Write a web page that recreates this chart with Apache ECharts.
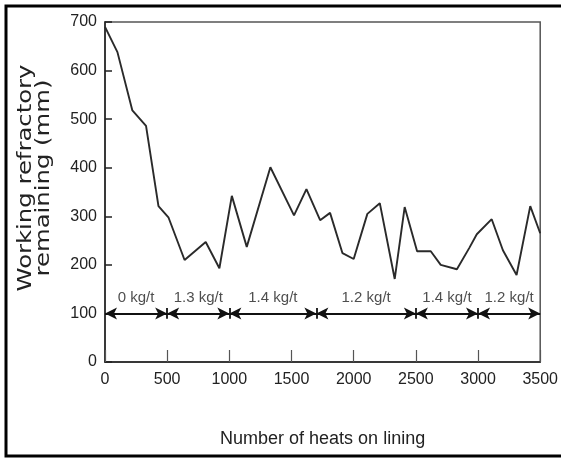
<!DOCTYPE html>
<html>
<head>
<meta charset="utf-8">
<script src="https://cdn.jsdelivr.net/npm/echarts@6/dist/echarts.min.js"></script>
<style>
  html, body { margin: 0; padding: 0; background: #fff; }
  #chart { width: 561px; height: 458px; }
</style>
</head>
<body>
<div id="chart"></div>
<script>
// Heats on lining vs. working refractory remaining
const heats = [0, 100, 220, 330, 430, 510, 640, 810, 920, 1020, 1140, 1330, 1520, 1620, 1730, 1810,
               1910, 2000, 2110, 2210, 2330, 2410, 2510, 2620, 2700, 2830, 2930, 2990, 3110, 3200,
               3310, 3420, 3500];
const remaining = [690, 638, 518, 486, 321, 298, 210, 247, 193, 342, 237, 401, 302, 356, 292, 307,
                   224, 212, 305, 327, 171, 319, 228, 228, 200, 191, 235, 263, 294, 230,
                   179, 321, 265];

// Slag-addition periods (start, end, label) drawn as arrows at 100 mm
const periodStart = [0, 500, 1000, 1700, 2500, 3000];
const periodEnd = [500, 1000, 1700, 2500, 3000, 3500];
const periodLabel = ['0 kg/t', '1.3 kg/t', '1.4 kg/t', '1.2 kg/t', '1.4 kg/t', '1.2 kg/t'];
const arrowLevel = 100;
const labelLevel = 132;

const xTicks = [0, 500, 1000, 1500, 2000, 2500, 3000, 3500];
const yTicks = [0, 100, 200, 300, 400, 500, 600, 700];

const sans = '"Liberation Sans", Arial, sans-serif';
const ink = '#222';

const arrowLines = periodStart.map((s, i) => [
  { coord: [s, arrowLevel] },
  { coord: [periodEnd[i], arrowLevel] }
]);
const separators = periodStart.slice(1).map(s => [
  { coord: [s, arrowLevel - 11], symbol: 'none' },
  { coord: [s, arrowLevel + 11], symbol: 'none' }
]);

const chart = echarts.init(document.getElementById('chart'), null, { renderer: 'canvas' });
chart.setOption({
  backgroundColor: '#fff',
  animation: false,
  grid: { left: 105, right: 16, top: 22, bottom: 96, show: true, borderColor: '#555', borderWidth: 1.5 },
  xAxis: {
    type: 'value', min: 0, max: 3500, interval: 500,
    name: 'Number of heats on lining', nameLocation: 'middle', nameGap: 68,
    nameTextStyle: { fontFamily: sans, fontSize: 18, color: ink },
    axisLine: { lineStyle: { color: ink, width: 1.5 } },
    axisTick: { inside: true, length: 12, lineStyle: { color: '#555', width: 1.2 } },
    axisLabel: { fontFamily: sans, fontSize: 16, color: ink, margin: 10,
                 formatter: v => xTicks.includes(v) ? String(v) : '' },
    splitLine: { show: false }
  },
  yAxis: {
    type: 'value', min: 0, max: 700, interval: 100,
    axisLine: { lineStyle: { color: ink, width: 1.5 } },
    axisTick: { inside: true, length: 7, lineStyle: { color: ink, width: 1.5 } },
    axisLabel: { fontFamily: sans, fontSize: 16, color: ink, margin: 8,
                 formatter: v => yTicks.includes(v) ? String(v) : '' },
    splitLine: { show: false }
  },
  graphic: [
    {
      type: 'rect', silent: true,
      shape: { x: 6, y: 6, width: 620, height: 450 },
      style: { fill: 'none', stroke: '#000', lineWidth: 3 }
    },
    {
      // y-axis title, two lines rotated to read bottom-to-top, stretched along the baseline
      type: 'text', silent: true,
      x: 35, y: 178, rotation: Math.PI / 2, scaleX: 1.28, scaleY: 1,
      style: {
        text: 'Working refractory\nremaining (mm)',
        font: '19px "DejaVu Sans", Verdana, sans-serif',
        lineHeight: 18, fill: ink,
        align: 'center', verticalAlign: 'middle'
      }
    }
  ],
  series: [
    {
      type: 'line',
      data: heats.map((h, i) => [h, remaining[i]]),
      showSymbol: false, symbol: 'none',
      lineStyle: { color: '#2a2a2a', width: 1.9 },
      z: 3
    },
    {
      type: 'scatter',
      data: periodStart.map((s, i) => [(s + periodEnd[i]) / 2, labelLevel, periodLabel[i]]),
      symbolSize: 0,
      label: { show: true, position: 'inside', formatter: p => p.data[2],
               fontFamily: sans, fontSize: 15, color: ink },
      markLine: {
        silent: true, animation: false,
        symbol: ['arrow', 'arrow'], symbolSize: [9, 12],
        label: { show: false },
        lineStyle: { color: '#111', width: 1.8, type: 'solid' },
        data: arrowLines.concat(separators)
      },
      z: 4
    }
  ]
});
</script>
</body>
</html>
